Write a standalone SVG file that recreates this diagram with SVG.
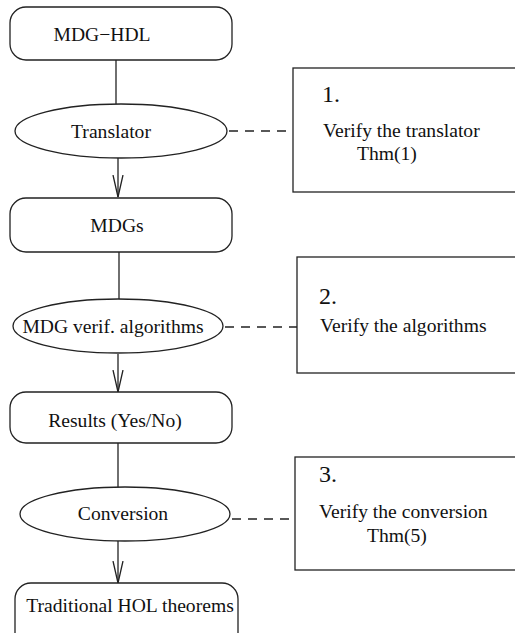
<svg xmlns="http://www.w3.org/2000/svg" width="515" height="633" viewBox="0 0 515 633">
<style>
.s{fill:#fff;stroke:#222;stroke-width:1.3}
.t{font-family:"Liberation Serif","Times New Roman",serif;font-size:19.6px;fill:#111}
.n{font-family:"Liberation Serif","Times New Roman",serif;font-size:24px;fill:#111}
.c{fill:none;stroke:#222;stroke-width:1.3}
.d{fill:none;stroke:#222;stroke-width:1.3;stroke-dasharray:9 7}
</style>
<defs>
<marker id="v" markerWidth="24" markerHeight="14" refX="22" refY="6" orient="auto" markerUnits="userSpaceOnUse" viewBox="0 0 24 12">
<path d="M0,1 L22,6 L0,11" fill="none" stroke="#222" stroke-width="1.3"/>
</marker>
</defs>
<g id="connectors">
<line class="c" x1="116" y1="60" x2="116" y2="104"/>
<line class="c" x1="118" y1="158" x2="118" y2="197" marker-end="url(#v)"/>
<line class="c" x1="119" y1="252" x2="119" y2="299"/>
<line class="c" x1="118" y1="354" x2="118" y2="392" marker-end="url(#v)"/>
<line class="c" x1="118" y1="443" x2="118" y2="488"/>
<line class="c" x1="118" y1="541" x2="118" y2="583" marker-end="url(#v)"/>
<line class="d" x1="229" y1="131" x2="293" y2="131"/>
<line class="d" x1="225" y1="327" x2="297" y2="327"/>
<line class="d" x1="232" y1="519" x2="295" y2="519"/>
</g>
<g id="mdghdl"><rect class="s" x="10" y="7" width="222" height="53" rx="16"/><text class="t" x="102" y="41" text-anchor="middle">MDG−HDL</text></g>
<g id="translator"><ellipse class="s" cx="121" cy="131" rx="106" ry="27"/><text class="t" x="111" y="138" text-anchor="middle">Translator</text></g>
<g id="mdgs"><rect class="s" x="10" y="198" width="222" height="54" rx="16"/><text class="t" x="117" y="232" text-anchor="middle">MDGs</text></g>
<g id="algorithms"><ellipse class="s" cx="118" cy="326" rx="105" ry="27"/><text class="t" x="113" y="333" text-anchor="middle">MDG verif. algorithms</text></g>
<g id="results"><rect class="s" x="10" y="392" width="222" height="51" rx="16"/><text class="t" x="115" y="427" text-anchor="middle">Results (Yes/No)</text></g>
<g id="conversion"><ellipse class="s" cx="125" cy="514" rx="105" ry="27"/><text class="t" x="123" y="520" text-anchor="middle">Conversion</text></g>
<g id="hol"><rect class="s" x="15" y="583" width="223" height="70" rx="16"/><text class="t" x="130" y="612" text-anchor="middle">Traditional HOL theorems</text></g>
<g id="box1"><rect class="s" x="293" y="68" width="240" height="124"/><text class="n" x="322" y="102">1.</text><text class="t" x="323" y="137">Verify the translator</text><text class="t" x="357" y="160">Thm(1)</text></g>
<g id="box2"><rect class="s" x="297" y="257" width="240" height="116"/><text class="n" x="319" y="304">2.</text><text class="t" x="320" y="332">Verify the algorithms</text></g>
<g id="box3"><rect class="s" x="295" y="457" width="240" height="113"/><text class="n" x="319" y="482">3.</text><text class="t" x="319" y="518">Verify the conversion</text><text class="t" x="367" y="542">Thm(5)</text></g>
</svg>
